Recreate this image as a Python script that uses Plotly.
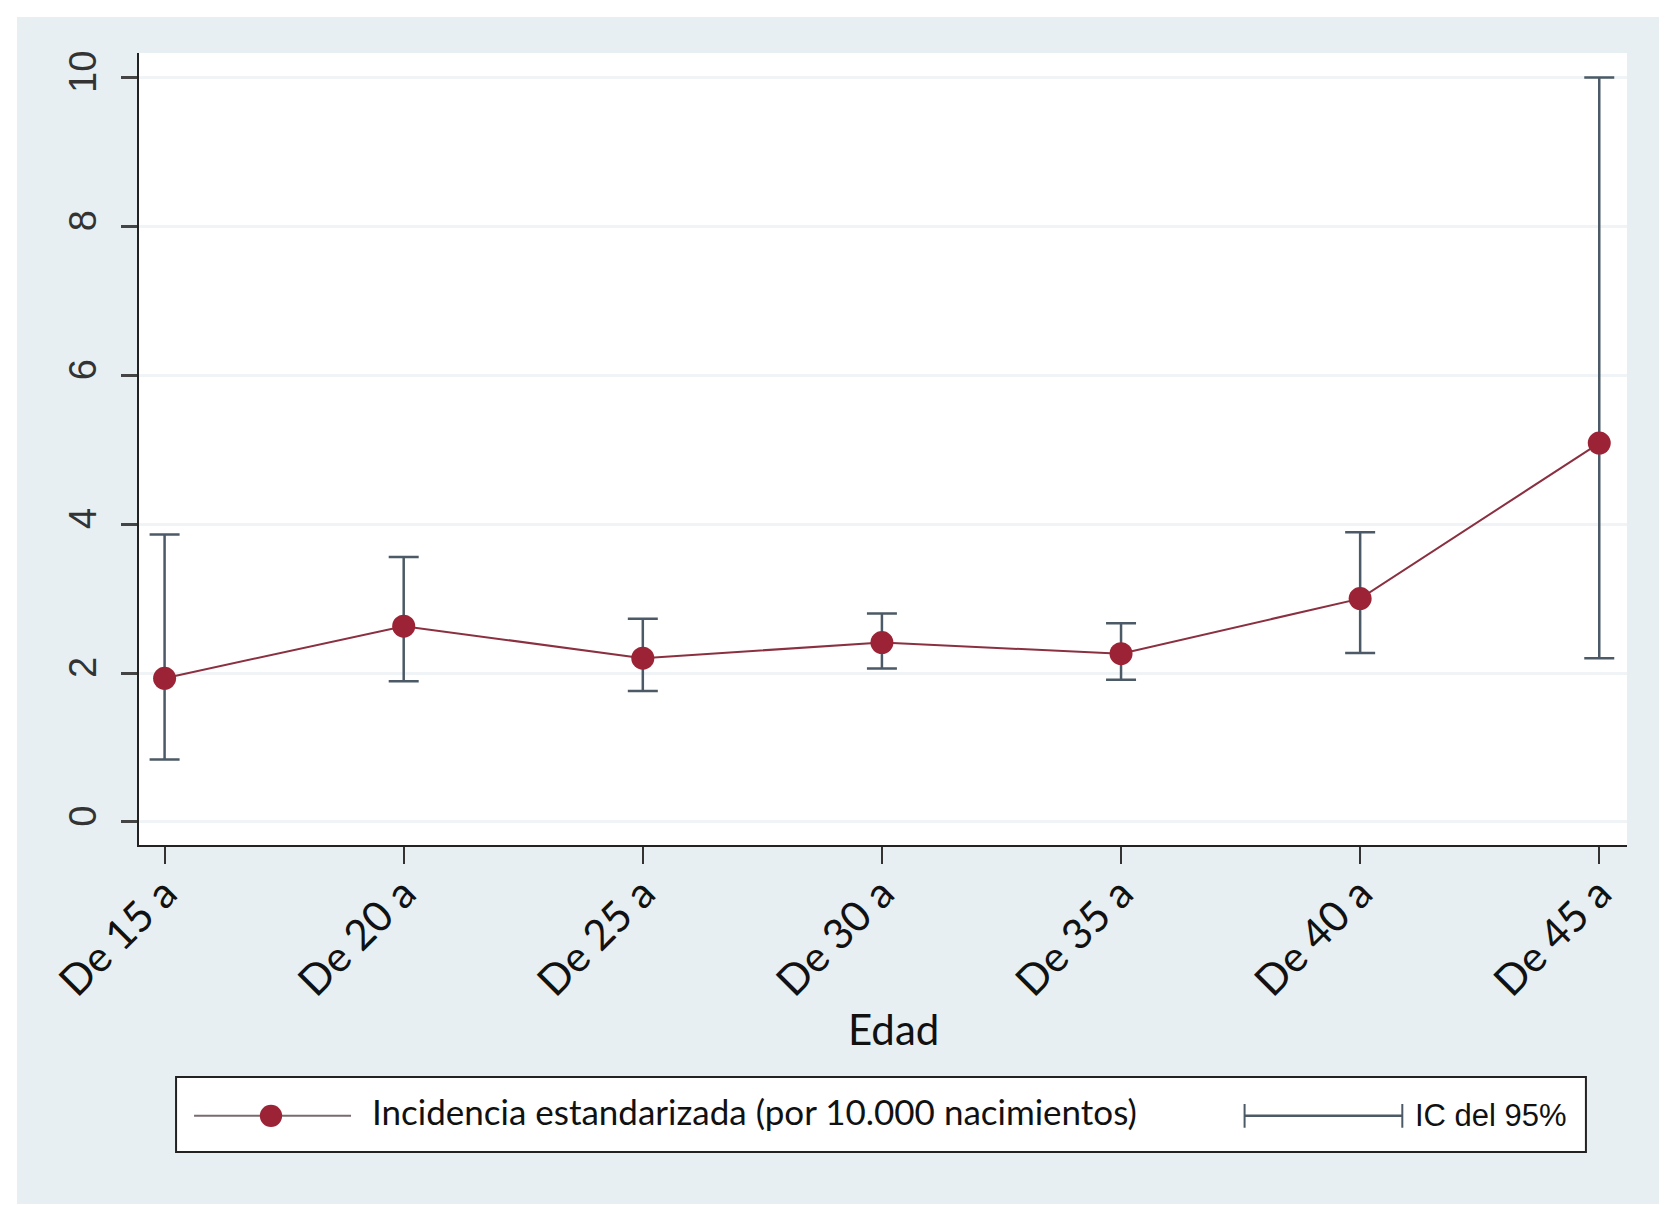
import plotly.graph_objects as go

categories = ["De 15 a", "De 20 a", "De 25 a", "De 30 a", "De 35 a", "De 40 a", "De 45 a"]
incidence = [1.93, 2.63, 2.20, 2.41, 2.26, 3.00, 5.09]
ci_low = [0.84, 1.89, 1.76, 2.06, 1.91, 2.27, 2.20]
ci_high = [3.86, 3.56, 2.73, 2.80, 2.67, 3.89, 10.00]
y_ticks = [0, 2, 4, 6, 8, 10]

err_plus = [h - m for h, m in zip(ci_high, incidence)]
err_minus = [m - l for m, l in zip(incidence, ci_low)]
x_idx = list(range(len(categories)))

RED = "#9b2335"
LINE = "#8a3040"
ERR = "#4b5a66"
BG = "#e7eff3"

fig = go.Figure()
fig.add_trace(go.Scatter(
    x=x_idx, y=incidence, mode="lines+markers",
    line=dict(color=LINE, width=2),
    marker=dict(color=RED, size=23),
    error_y=dict(type="data", symmetric=False, array=err_plus, arrayminus=err_minus,
                 color=ERR, thickness=2.5, width=15),
    showlegend=False,
))

shapes = [
    # white outer border of the page
    dict(type="rect", xref="paper", yref="paper", x0=-0.0880, x1=1.0323, y0=-0.4646, y1=1.0568,
         fillcolor="rgba(0,0,0,0)", line=dict(color="white", width=18)),
    # legend box
    dict(type="rect", xref="paper", yref="paper", x0=0.0249, x1=0.9724, y0=-0.3876, y1=-0.2929,
         fillcolor="white", line=dict(color="#222222", width=2)),
    # legend line sample
    dict(type="line", xref="paper", yref="paper", x0=0.037, x1=0.1425, y0=-0.342, y1=-0.342,
         line=dict(color="#7a6a6e", width=2)),
    # legend CI sample
    dict(type="line", xref="paper", yref="paper", x0=0.743, x1=0.849, y0=-0.342, y1=-0.342,
         line=dict(color=ERR, width=2.5)),
    dict(type="line", xref="paper", yref="paper", x0=0.743, x1=0.743, y0=-0.357, y1=-0.327,
         line=dict(color=ERR, width=2)),
    dict(type="line", xref="paper", yref="paper", x0=0.849, x1=0.849, y0=-0.357, y1=-0.327,
         line=dict(color=ERR, width=2)),
    # legend marker sample
    dict(type="circle", xref="paper", yref="paper",
         x0=0.0887 - 0.0075, x1=0.0887 + 0.0075, y0=-0.342 - 0.014, y1=-0.342 + 0.014,
         fillcolor=RED, line=dict(width=0)),
]

annotations = [
    dict(text="Edad", xref="paper", yref="paper", x=0.507, y=-0.232, showarrow=False,
         xanchor="center", yanchor="middle", font=dict(family="Lato", size=42, color="#111111")),
    dict(text="Incidencia estandarizada (por 10.000 nacimientos)", xref="paper", yref="paper",
         x=0.155, y=-0.336, showarrow=False, xanchor="left", yanchor="middle",
         font=dict(family="Lato", size=35, color="#111111")),
    dict(text="IC del 95%", xref="paper", yref="paper",
         x=0.8565, y=-0.342, showarrow=False, xanchor="left", yanchor="middle",
         font=dict(family="Liberation Sans", size=31, color="#111111")),
]

fig.update_layout(
    width=1667, height=1205,
    margin=dict(l=131, r=48, t=45, b=368),
    paper_bgcolor=BG, plot_bgcolor="white",
    shapes=shapes, annotations=annotations,
    xaxis=dict(
        range=[-0.107, 6.116], tickmode="array", tickvals=x_idx, ticktext=categories,
        tickangle=-45, ticks="outside", ticklen=17, tickwidth=2, tickcolor="#333333",
        showline=True, linecolor="#222222", linewidth=2, showgrid=False, zeroline=False,
        ticklabelstandoff=-12,
        tickfont=dict(family="Lato", size=42, color="#111111"),
    ),
    yaxis=dict(
        range=[-0.31, 10.33], tickmode="array", tickvals=y_ticks,
        tickangle=-90, ticks="outside", ticklen=16, tickwidth=3, tickcolor="#444444",
        showline=True, linecolor="#222222", linewidth=2,
        showgrid=True, gridcolor="#f0f4f6", gridwidth=3, zeroline=False,
        ticklabelstandoff=10,
        tickfont=dict(family="Liberation Sans", size=38, color="#333333"),
    ),
)

fig.write_html("out.html")
